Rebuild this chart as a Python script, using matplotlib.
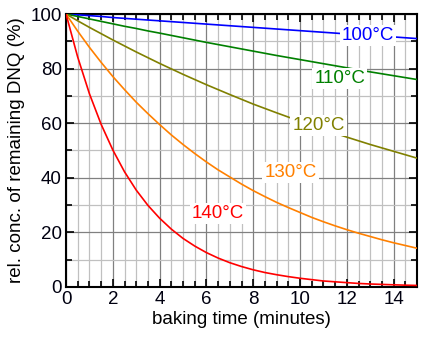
import matplotlib
matplotlib.use("Agg")
import matplotlib.pyplot as plt
from matplotlib.ticker import MultipleLocator

plt.rcParams["font.family"] = ["Liberation Sans", "DejaVu Sans"]

# baking time (minutes)
t = [0, 0.5, 1, 1.5, 2, 2.5, 3, 3.5, 4, 5, 6, 7, 8, 9, 10, 11, 12, 13, 14, 15]
t_fine = [0, 0.5, 1, 1.5, 2, 2.5, 3, 3.5, 4, 4.5, 5, 5.5, 6, 6.5, 7, 7.5, 8,
          8.5, 9, 9.5, 10, 10.5, 11, 11.5, 12, 12.5, 13, 13.5, 14, 14.5, 15]

# remaining DNQ (%)
dnq_100 = [100, 99.7, 99.4, 99.1, 98.7, 98.4, 98.1, 97.8, 97.5, 96.9, 96.3, 95.7,
           95.1, 94.5, 93.9, 93.3, 92.7, 92.1, 91.6, 91.0]
dnq_110 = [100, 99.1, 98.2, 97.3, 96.4, 95.5, 94.7, 93.8, 93.0, 91.3, 89.6, 88.0,
           86.4, 84.8, 83.3, 81.8, 80.3, 78.8, 77.4, 76.0]
dnq_120 = [100, 97.5, 95.1, 92.8, 90.5, 88.3, 86.1, 84.0, 81.9, 77.9, 74.1, 70.5,
           67.0, 63.8, 60.7, 57.7, 54.9, 52.2, 49.7, 47.2]
dnq_130 = [100, 93.7, 87.8, 82.3, 77.1, 72.3, 67.7, 63.5, 59.5, 55.7, 52.2, 48.9,
           45.8, 42.9, 40.3, 37.7, 35.3, 33.1, 31.0, 29.1, 27.3, 25.5, 23.9, 22.4,
           21.0, 19.7, 18.5, 17.3, 16.2, 15.2, 14.2]
dnq_140 = [100, 84.2, 70.8, 59.6, 50.2, 42.2, 35.5, 29.9, 25.2, 21.2, 17.8, 15.0,
           12.6, 10.6, 8.9, 7.5, 6.3, 5.3, 4.5, 3.8, 3.2, 2.7, 2.2, 1.9, 1.6, 1.3,
           1.1, 0.95, 0.8, 0.67, 0.57]

labels = ["100°C", "110°C", "120°C", "130°C", "140°C"]
colors = ["#0000ff", "#008000", "#808000", "#ff8000", "#ff0000"]
label_pos = [(12.9, 92), (11.7, 76.5), (10.8, 59), (9.6, 42), (6.5, 27)]

fig = plt.figure(figsize=(4.27, 3.39), dpi=100)
ax = fig.add_axes([0.1546, 0.1534, 0.822, 0.8053])

series = [(t, dnq_100), (t, dnq_110), (t, dnq_120), (t_fine, dnq_130), (t_fine, dnq_140)]
for (xs, ys), c in zip(series, colors):
    ax.plot(xs, ys, color=c, linewidth=1.2, zorder=3)

for lab, c, (x, y) in zip(labels, colors, label_pos):
    ax.text(x, y, lab, color=c, fontsize=13.5, ha="center", va="center", zorder=4,
            bbox=dict(facecolor="white", edgecolor="none", pad=1.5))

ax.set_xlim(0, 15)
ax.set_ylim(0, 100)
ax.xaxis.set_major_locator(MultipleLocator(2))
ax.xaxis.set_minor_locator(MultipleLocator(0.5))
ax.yaxis.set_major_locator(MultipleLocator(20))
ax.yaxis.set_minor_locator(MultipleLocator(10))

ax.grid(which="major", color="#808080", linewidth=0.9, zorder=0)
ax.grid(which="minor", color="#c0c0c0", linewidth=0.9, zorder=0)
ax.set_axisbelow(True)

ax.tick_params(which="both", direction="in", top=True, right=True,
               color="black", labelsize=13.5, labelcolor="#000010")
ax.tick_params(which="major", length=6, width=1.2, pad=3)
ax.tick_params(which="minor", length=4, width=1.2)
for s in ax.spines.values():
    s.set_linewidth(1.5)
    s.set_color("black")

ax.set_xlabel("baking time (minutes)", fontsize=13.5, labelpad=2)
ax.set_ylabel("rel. conc. of remaining DNQ (%)", fontsize=13.5, labelpad=4)

fig.savefig("out.png", dpi=100)
